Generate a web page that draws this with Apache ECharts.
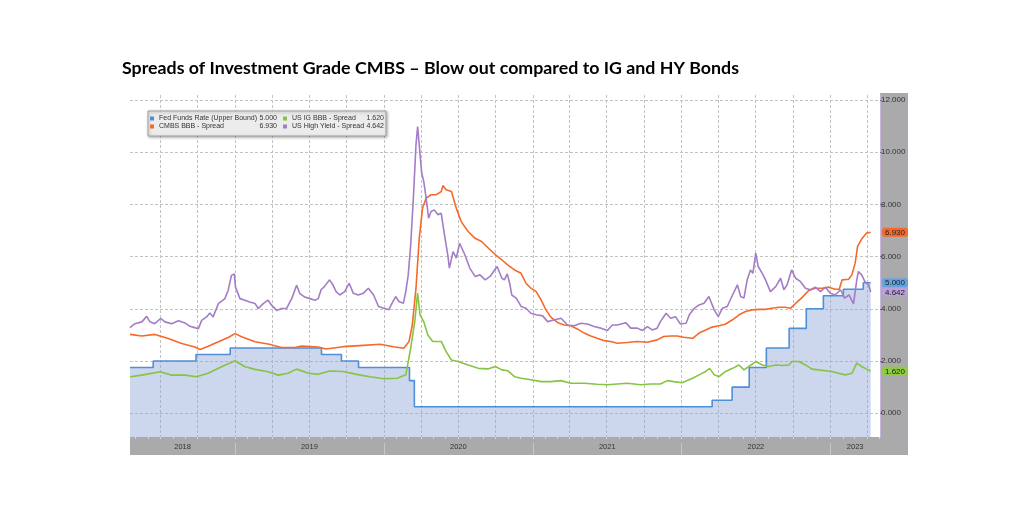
<!DOCTYPE html>
<html><head><meta charset="utf-8">
<script src="https://cdn.jsdelivr.net/npm/echarts/dist/echarts.min.js"></script>
<style>html,body{margin:0;padding:0;background:#fff}#c{width:1024px;height:512px}</style>
</head><body><div id="c"></div>
<script>
const titleText = 'Spreads of Investment Grade CMBS \u2013 Blow out compared to IG and HY Bonds';
const seriesNames = ['Fed Funds Rate (Upper Bound)', 'CMBS BBB - Spread', 'US IG BBB - Spread', 'US High Yield - Spread'];
const xMin = '2018-04-18';
const xMax = '2023-05-03';
const yTicks = [0, 2, 4, 6, 8, 10, 12];
const yearLabels = ['2018', '2019', '2020', '2021', '2022', '2023'];

const ffDates = ['2018-04-18','2018-06-14','2018-09-27','2018-12-20','2019-08-01','2019-09-19','2019-10-31','2020-03-04','2020-03-16','2022-03-17','2022-05-05','2022-06-16','2022-07-28','2022-09-22','2022-11-03','2022-12-15','2023-02-02','2023-03-23','2023-04-10'];
const ffValues = [1.75,2.00,2.25,2.50,2.25,2.00,1.75,1.25,0.25,0.50,1.00,1.75,2.50,3.25,4.00,4.50,4.75,5.00,5.00];

const cmbsDates = ['2018-04-18','2018-05-17','2018-06-18','2018-07-21','2018-08-23','2018-09-24','2018-10-07','2018-10-27','2018-11-21','2018-12-15','2019-01-01','2019-01-17','2019-02-19','2019-03-23','2019-04-25','2019-05-28','2019-06-13','2019-07-24','2019-08-12','2019-09-23','2019-11-03','2019-12-23','2020-01-25','2020-02-19','2020-03-03','2020-03-11','2020-03-20','2020-03-28','2020-04-05','2020-04-14','2020-04-26','2020-05-08','2020-05-21','2020-05-25','2020-06-02','2020-06-15','2020-06-27','2020-07-09','2020-07-26','2020-08-12','2020-08-28','2020-09-14','2020-10-01','2020-10-17','2020-10-31','2020-11-17','2020-12-03','2020-12-15','2020-12-27','2021-01-09','2021-01-21','2021-02-02','2021-02-14','2021-03-03','2021-03-19','2021-04-04','2021-04-21','2021-05-07','2021-05-23','2021-06-08','2021-06-25','2021-07-11','2021-07-27','2021-08-21','2021-09-14','2021-10-09','2021-11-02','2021-11-18','2021-12-05','2021-12-21','2022-01-06','2022-01-28','2022-02-13','2022-03-01','2022-03-17','2022-04-03','2022-04-19','2022-05-06','2022-05-22','2022-06-07','2022-06-23','2022-07-10','2022-07-26','2022-08-11','2022-08-28','2022-09-13','2022-09-25','2022-10-08','2022-10-24','2022-11-09','2022-11-25','2022-12-12','2022-12-28','2023-01-13','2023-01-23','2023-01-30','2023-02-15','2023-02-23','2023-03-03','2023-03-09','2023-03-19','2023-03-31','2023-04-10'];
const cmbsValues = [3.02,2.96,3.02,2.86,2.67,2.54,2.44,2.57,2.74,2.90,3.05,2.93,2.74,2.65,2.52,2.52,2.57,2.54,2.46,2.55,2.59,2.64,2.55,2.49,2.75,3.38,4.79,6.70,7.85,8.24,8.37,8.37,8.49,8.72,8.56,8.49,7.85,7.34,6.96,6.70,6.58,6.32,6.07,5.87,5.68,5.49,5.36,4.98,4.79,4.66,4.34,3.96,3.68,3.47,3.38,3.35,3.22,3.07,2.96,2.87,2.78,2.75,2.68,2.71,2.75,2.72,2.81,2.94,2.96,2.96,2.91,2.87,3.07,3.19,3.30,3.35,3.42,3.58,3.77,3.90,3.96,3.98,3.98,4.02,4.06,4.06,4.02,4.21,4.44,4.70,4.79,4.79,4.83,4.75,4.75,5.11,5.13,5.30,5.75,6.39,6.67,6.90,6.93];

const igDates = ['2018-04-18','2018-05-17','2018-07-01','2018-07-29','2018-08-31','2018-09-28','2018-10-27','2018-11-21','2018-12-07','2019-01-01','2019-01-25','2019-02-19','2019-03-23','2019-04-17','2019-05-11','2019-06-01','2019-06-30','2019-07-24','2019-08-21','2019-09-23','2019-10-26','2019-11-28','2020-01-01','2020-02-03','2020-02-24','2020-03-07','2020-03-17','2020-03-24','2020-03-30','2020-04-08','2020-04-18','2020-04-30','2020-05-13','2020-05-21','2020-06-02','2020-06-15','2020-07-01','2020-07-26','2020-08-20','2020-09-14','2020-10-01','2020-10-17','2020-10-31','2020-11-17','2020-12-03','2020-12-27','2021-01-21','2021-02-14','2021-03-11','2021-04-04','2021-05-07','2021-06-08','2021-07-03','2021-07-27','2021-08-21','2021-09-22','2021-10-17','2021-11-10','2021-11-27','2021-12-13','2022-01-02','2022-01-28','2022-02-13','2022-03-01','2022-03-11','2022-03-22','2022-04-03','2022-04-19','2022-05-06','2022-05-22','2022-06-03','2022-06-15','2022-07-02','2022-07-18','2022-08-03','2022-08-20','2022-09-05','2022-09-21','2022-09-29','2022-10-16','2022-11-01','2022-11-17','2022-12-03','2022-12-20','2023-01-05','2023-01-21','2023-02-07','2023-02-23','2023-03-07','2023-03-19','2023-03-31','2023-04-10'];
const igValues = [1.40,1.46,1.59,1.46,1.46,1.40,1.53,1.72,1.84,2.01,1.78,1.68,1.59,1.46,1.53,1.69,1.53,1.49,1.62,1.60,1.49,1.40,1.32,1.34,1.47,2.49,3.51,4.60,3.77,3.51,3.00,2.75,2.75,2.75,2.36,2.04,1.98,1.85,1.72,1.70,1.79,1.66,1.63,1.40,1.34,1.28,1.21,1.21,1.25,1.15,1.15,1.11,1.09,1.12,1.15,1.09,1.12,1.12,1.25,1.21,1.17,1.34,1.47,1.60,1.72,1.47,1.40,1.60,1.72,1.85,1.66,1.79,1.98,1.85,1.79,1.85,1.83,1.85,1.98,1.98,1.85,1.69,1.66,1.63,1.60,1.53,1.47,1.53,1.92,1.79,1.69,1.62];

const hyDates = ['2018-04-18','2018-04-30','2018-05-17','2018-05-29','2018-06-06','2018-06-18','2018-07-02','2018-07-13','2018-07-29','2018-08-15','2018-08-31','2018-09-12','2018-09-24','2018-10-03','2018-10-11','2018-10-23','2018-10-31','2018-11-08','2018-11-21','2018-12-07','2018-12-15','2018-12-23','2018-12-30','2019-01-02','2019-01-13','2019-01-25','2019-02-06','2019-02-19','2019-02-27','2019-03-11','2019-03-23','2019-04-01','2019-04-13','2019-04-25','2019-05-07','2019-05-20','2019-06-01','2019-06-09','2019-06-21','2019-07-04','2019-07-16','2019-07-24','2019-07-31','2019-08-08','2019-08-21','2019-08-29','2019-09-06','2019-09-15','2019-09-27','2019-10-08','2019-10-18','2019-10-30','2019-11-12','2019-11-24','2019-12-07','2019-12-19','2020-01-01','2020-01-13','2020-01-21','2020-01-30','2020-02-07','2020-02-18','2020-02-24','2020-03-01','2020-03-07','2020-03-14','2020-03-20','2020-03-24','2020-03-28','2020-04-03','2020-04-08','2020-04-14','2020-04-20','2020-04-26','2020-05-04','2020-05-13','2020-05-21','2020-05-29','2020-06-06','2020-06-10','2020-06-19','2020-06-27','2020-07-05','2020-07-18','2020-07-30','2020-08-12','2020-08-24','2020-09-06','2020-09-18','2020-10-05','2020-10-17','2020-10-23','2020-10-30','2020-11-05','2020-11-10','2020-11-21','2020-12-03','2020-12-15','2020-12-27','2021-01-09','2021-01-25','2021-02-06','2021-02-23','2021-03-11','2021-03-27','2021-04-12','2021-04-29','2021-05-15','2021-05-31','2021-06-17','2021-07-03','2021-07-15','2021-07-27','2021-08-17','2021-08-29','2021-09-14','2021-09-27','2021-10-09','2021-10-21','2021-11-02','2021-11-10','2021-11-24','2021-12-05','2021-12-17','2021-12-29','2022-01-12','2022-01-20','2022-02-01','2022-02-13','2022-02-25','2022-03-09','2022-03-22','2022-04-01','2022-04-11','2022-04-23','2022-05-06','2022-05-18','2022-05-26','2022-06-03','2022-06-11','2022-06-19','2022-06-25','2022-07-02','2022-07-08','2022-07-18','2022-07-26','2022-08-07','2022-08-20','2022-09-01','2022-09-09','2022-09-17','2022-09-28','2022-10-08','2022-10-20','2022-11-01','2022-11-13','2022-11-25','2022-12-08','2022-12-20','2023-01-01','2023-01-13','2023-01-26','2023-02-05','2023-02-16','2023-02-27','2023-03-07','2023-03-11','2023-03-19','2023-03-27','2023-04-05','2023-04-10'];
const hyValues = [3.28,3.43,3.50,3.71,3.50,3.43,3.63,3.50,3.43,3.54,3.46,3.33,3.28,3.24,3.56,3.69,3.84,3.69,4.20,4.39,4.71,5.28,5.34,4.83,4.39,4.33,4.26,4.20,4.01,4.20,4.33,4.13,3.94,4.01,4.01,4.39,4.90,4.58,4.45,4.39,4.33,4.39,4.73,4.85,5.11,4.92,4.66,4.53,4.66,4.98,4.60,4.53,4.60,4.79,4.53,4.09,4.02,3.96,4.21,4.47,4.28,4.21,4.66,5.30,6.45,8.37,10.28,10.98,10.28,9.20,8.88,8.24,7.47,7.73,7.79,7.60,7.66,6.83,6.07,5.56,6.19,5.94,6.51,6.07,5.56,5.24,5.30,5.11,5.24,5.62,5.17,5.11,5.34,4.98,4.53,4.41,4.09,4.02,3.83,3.77,3.73,3.51,3.58,3.64,3.38,3.35,3.45,3.42,3.32,3.26,3.17,3.38,3.38,3.47,3.26,3.26,3.17,3.32,3.19,3.26,3.51,3.83,3.64,3.70,3.42,3.45,3.77,4.02,4.15,4.21,4.47,3.96,3.70,4.02,4.09,4.53,4.92,4.47,4.41,5.11,5.49,5.36,6.13,5.62,5.36,5.11,4.66,4.85,5.17,4.73,4.92,5.49,5.17,5.04,4.79,4.73,4.83,4.66,4.83,4.60,4.53,4.73,4.41,4.53,4.19,5.11,5.43,5.30,5.04,4.92,4.642];

const seriesColors = ['#4f8fd8', '#f56a2a', '#86c441', '#a37dc6'];
const tagColors = ['#62a2e0', '#f36a2c', '#8fcb45', '#b9a0d8'];

function ts(s) { const p = s.split('-').map(Number); return new Date(p[0], p[1] - 1, p[2] || 1).getTime(); }
function pairs(d, v) { return d.map((x, i) => [ts(x), v[i]]); }
const tMin = ts(xMin), tMax = ts(xMax);
const monthTicks = [], quarterTicks = [], yearTicks = [];
for (let y = 2018; y <= 2023; y++) {
  for (let m = 0; m < 12; m++) {
    const t = new Date(y, m, 1).getTime();
    if (t <= tMin || t >= tMax) continue;
    monthTicks.push(t);
    if (m % 3 === 0) quarterTicks.push(t);
    if (m === 0) yearTicks.push(t);
  }
}
const labelPos = yearLabels.map(y => {
  const a = Math.max(tMin, new Date(+y, 0, 1).getTime());
  const b = Math.min(tMax, new Date(+y + 1, 0, 1).getTime());
  return (a + b) / 2;
});

const allValues = [ffValues, cmbsValues, igValues, hyValues];
const allDates = [ffDates, cmbsDates, igDates, hyDates];
const lastVals = allValues.map(v => v[v.length - 1]);
const FONT = 'Liberation Sans, Arial, sans-serif';

function mkSeries(i) {
  const s = {
    name: seriesNames[i], type: 'line', data: pairs(allDates[i], allValues[i]),
    showSymbol: false, symbol: 'none', animation: false, z: 3 + i,
    lineStyle: { color: seriesColors[i], width: 1.6 },
    itemStyle: { color: seriesColors[i] }
  };
  if (i === 0) {
    s.step = 'end';
    s.areaStyle = { color: '#8ea3d6', opacity: 0.45, origin: 'start' };
  }
  return s;
}

const LF = 7;
const richCol1 = { n: { width: 100, fontSize: LF, lineHeight: 8, color: '#333', fontFamily: FONT }, v: { width: 18, align: 'right', fontSize: LF, lineHeight: 8, color: '#333', fontFamily: FONT } };
const richCol2 = { n: { width: 75, fontSize: LF, lineHeight: 8, color: '#333', fontFamily: FONT }, v: { width: 17, align: 'right', fontSize: LF, lineHeight: 8, color: '#333', fontFamily: FONT } };
function legendFmt(name) { const i = seriesNames.indexOf(name); return '{n|' + name + '}{v|' + lastVals[i].toFixed(3) + '}'; }

const tagRich = {};
tagColors.forEach((c, i) => {
  tagRich['t' + i] = { backgroundColor: c, color: '#222', fontSize: 8, fontFamily: FONT, padding: [1, 3, 0, 3], borderRadius: 3, lineHeight: 8 };
});
function tagFmt(v) {
  let best = 0;
  lastVals.forEach((x, i) => { if (Math.abs(x - v) < Math.abs(lastVals[best] - v)) best = i; });
  return '{t' + best + '|' + v.toFixed(3) + '}';
}

const xBase = { type: 'value', min: tMin, max: tMax, position: 'bottom', scale: true };
const yBase = { type: 'value', position: 'right', min: -0.91, max: 12.19 };

const chart = echarts.init(document.getElementById('c'));
chart.setOption({
  backgroundColor: '#ffffff',
  animation: false,
  title: { text: titleText, left: 122, top: 59, padding: 0, textStyle: { fontFamily: 'Lato, Carlito, sans-serif', fontWeight: 'bold', fontSize: 17.8, color: '#000' } },
  grid: { left: 130, right: 144, top: 95, bottom: 75, containLabel: false },
  graphic: { elements: [
    { type: 'rect', z: -10, shape: { x: 880, y: 93, width: 28, height: 362 }, style: { fill: '#aaaaac' } },
    { type: 'rect', z: -10, shape: { x: 130, y: 437, width: 778, height: 18 }, style: { fill: '#aaaaac' } },
    { type: 'rect', z: 10, shape: { x: 148, y: 111, width: 238, height: 25 }, style: { fill: '#ececec', stroke: '#a0a0a0', lineWidth: 1, shadowBlur: 3, shadowOffsetX: 1, shadowOffsetY: 1, shadowColor: 'rgba(0,0,0,0.3)' } }
  ] },
  legend: [
    { data: [seriesNames[0], seriesNames[1]], orient: 'vertical', left: 150, top: 115, padding: 0, itemGap: 1, itemWidth: 4, itemHeight: 4, icon: 'rect', z: 20, formatter: legendFmt, textStyle: { rich: richCol1 }, selectedMode: false },
    { data: [seriesNames[2], seriesNames[3]], orient: 'vertical', left: 283, top: 115, padding: 0, itemGap: 1, itemWidth: 4, itemHeight: 4, icon: 'rect', z: 20, formatter: legendFmt, textStyle: { rich: richCol2 }, selectedMode: false }
  ],
  xAxis: [
    Object.assign({}, xBase, {
      axisLine: { show: false, onZero: false },
      axisTick: { show: true, customValues: monthTicks, length: 2, lineStyle: { color: '#d6d6d6' } },
      axisLabel: { customValues: labelPos, formatter: v => String(new Date(v).getFullYear()), fontSize: 7.5, color: '#333', margin: 6, fontFamily: FONT, hideOverlap: false },
      splitLine: { show: false } }),
    Object.assign({}, xBase, {
      axisLine: { show: false, onZero: false },
      axisTick: { show: false, customValues: quarterTicks },
      axisLabel: { show: false },
      splitLine: { show: true, lineStyle: { color: '#c2c2c2', type: [3, 2], width: 1 } } }),
    Object.assign({}, xBase, { offset: 6,
      axisLine: { show: false, onZero: false },
      axisTick: { show: true, customValues: yearTicks, length: 12, lineStyle: { color: '#c6c6c6' } },
      axisLabel: { show: false },
      splitLine: { show: false } })
  ],
  yAxis: [
    Object.assign({}, yBase, {
      axisLine: { show: true, onZero: false, lineStyle: { color: '#c6b6de', width: 1 } },
      axisTick: { show: true, customValues: yTicks, length: 2, lineStyle: { color: '#777' } },
      axisLabel: { customValues: yTicks, formatter: v => v.toFixed(3), fontSize: 8, color: '#333', margin: 1, fontFamily: FONT },
      splitLine: { show: true, lineStyle: { color: '#c2c2c2', type: [3, 2], width: 1 } } }),
    Object.assign({}, yBase, {
      z: 5,
      axisLine: { show: false, onZero: false },
      axisTick: { show: false, customValues: lastVals },
      axisLabel: { customValues: lastVals, formatter: tagFmt, margin: 2, hideOverlap: false, rich: tagRich },
      splitLine: { show: false } })
  ],
  series: [mkSeries(0), mkSeries(1), mkSeries(2), mkSeries(3)]
});
</script>
</body></html>
